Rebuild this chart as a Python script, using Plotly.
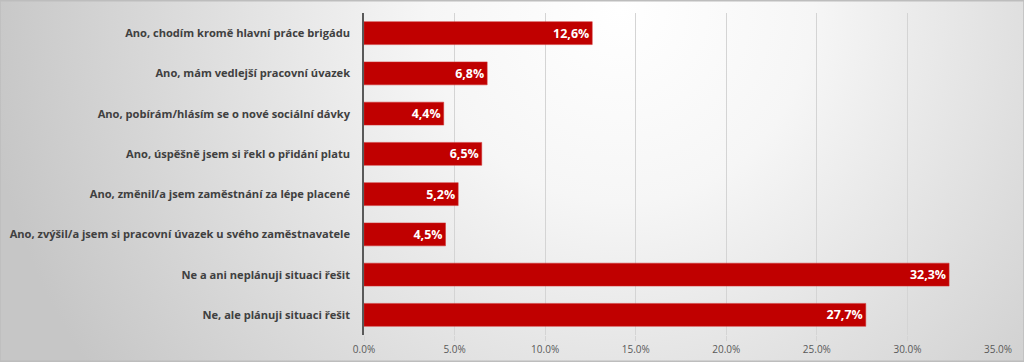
import base64
import plotly.graph_objects as go

categories = [
    "Ano, chodím kromě hlavní práce brigádu",
    "Ano, mám vedlejší pracovní úvazek",
    "Ano, pobírám/hlásím se o nové sociální dávky",
    "Ano, úspěšně jsem si řekl o přidání platu",
    "Ano, změnil/a jsem zaměstnání za lépe placené",
    "Ano, zvýšil/a jsem si pracovní úvazek u svého zaměstnavatele",
    "Ne a ani neplánuji situaci řešit",
    "Ne, ale plánuji situaci řešit",
]
values = [12.6, 6.8, 4.4, 6.5, 5.2, 4.5, 32.3, 27.7]
tick_vals = [0, 5, 10, 15, 20, 25, 30, 35]
tick_text = [f"{t:.1f}%" for t in tick_vals]
bar_text = [f"{v:.1f}".replace(".", ",") + "%" for v in values]

W, H = 1024, 362
ML, MR, MT, MB = 364, 26, 13, 27
pw, ph = W - ML - MR, H - MT - MB

svg = f'''<svg xmlns="http://www.w3.org/2000/svg" width="{W}" height="{H}" viewBox="0 0 {W} {H}">
<defs><radialGradient id="g" gradientUnits="userSpaceOnUse" cx="620" cy="10" r="640">
<stop offset="0" stop-color="#ffffff"/><stop offset="0.3" stop-color="#f6f6f6"/>
<stop offset="1" stop-color="#c6c6c6"/></radialGradient></defs>
<rect x="0" y="0" width="{W}" height="{H}" fill="url(#g)"/>
<rect x="0" y="0.75" width="{W}" height="{H-1.5}" fill="none" stroke="#bdbdbd" stroke-width="1.5"/>
</svg>'''
src = "data:image/svg+xml;base64," + base64.b64encode(svg.encode()).decode()

fig = go.Figure(go.Bar(
    x=values, y=categories, orientation="h",
    marker=dict(color="#C00000", line=dict(color="#d03030", width=0.5)),
    text=bar_text, textposition="inside", insidetextanchor="end",
    textfont=dict(family="Open Sans", size=12.5, color="white", weight="bold"),
    cliponaxis=False, width=0.57,
))

fig.update_layout(
    width=W, height=H,
    margin=dict(l=ML, r=MR, t=MT, b=MB, pad=0),
    paper_bgcolor="#d8d8d8", plot_bgcolor="rgba(0,0,0,0)",
    showlegend=False,
    images=[dict(source=src, xref="paper", yref="paper",
                 x=-ML / pw, y=1 + MT / ph, sizex=W / pw, sizey=H / ph,
                 xanchor="left", yanchor="top", sizing="stretch", layer="below")],
    xaxis=dict(range=[0, 35], tickvals=tick_vals, ticktext=tick_text,
               showgrid=True, gridcolor="#d4d4d4", gridwidth=1, zeroline=False,
               ticks="outside", ticklen=5, tickcolor="#d4d4d4", automargin=False,
               tickfont=dict(family="Open Sans", size=10, color="#595959"),
               fixedrange=True),
    yaxis=dict(autorange="reversed", showline=True, linecolor="#595959", linewidth=1.5,
               ticks="", ticklabelstandoff=10, automargin=False,
               tickfont=dict(family="Open Sans", size=11.1, color="#404040", weight="bold")),
    uniformtext=dict(minsize=8, mode="show"),
)

fig.write_html("out.html", config={"displayModeBar": False},
               post_script="document.body.style.margin='0';document.body.style.overflow='hidden';")
